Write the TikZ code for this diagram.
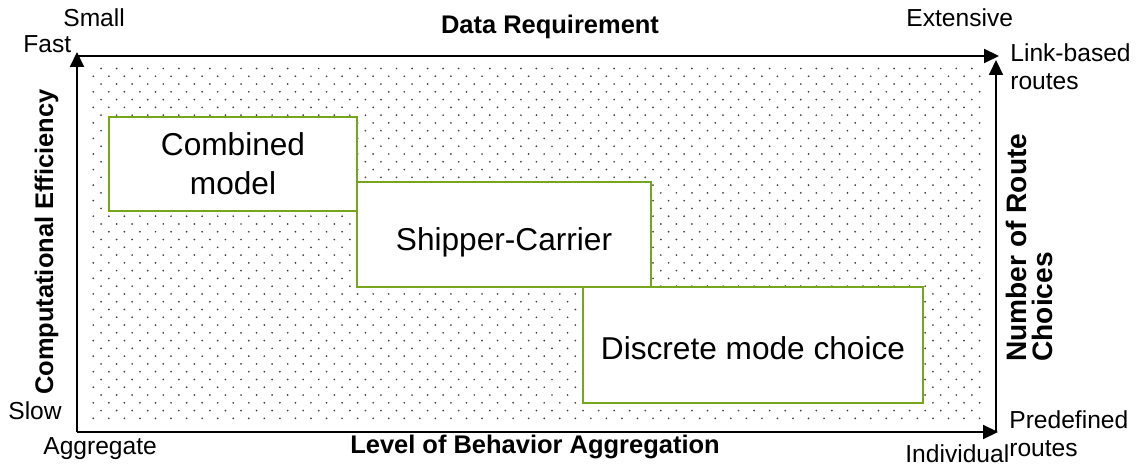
\documentclass[tikz,border=0pt]{standalone}
\usepackage{fontspec}
\setmainfont{Liberation Sans}
\usetikzlibrary{arrows.meta,patterns}
\definecolor{boxgreen}{RGB}{118,166,30}
\pgfdeclarepatternformonly{sparsedots}{\pgfqpoint{-0.6pt}{-0.6pt}}{\pgfqpoint{8.25pt}{8.25pt}}{\pgfqpoint{8.85pt}{8.85pt}}{%
	\pgfpathcircle{\pgfqpoint{0pt}{0pt}}{0.55pt}%
	\pgfpathcircle{\pgfqpoint{4.425pt}{4.425pt}}{0.55pt}%
	\pgfusepath{fill}}
\tikzset{
	axisarrow/.style={line width=0.04cm, -{Triangle[length=0.3cm,width=0.28cm]}},
	modelbox/.style={draw=boxgreen, line width=0.04cm, fill=white, align=center, font=\fontsize{18}{22}\selectfont},
	endlabel/.style={inner sep=0pt, font=\fontsize{14}{16}\selectfont},
	axislabel/.style={inner sep=0pt, font=\fontsize{14.5}{17}\selectfont\bfseries},
}

\begin{document}
\begin{tikzpicture}[x=0.02cm, y=-0.02cm]
		%%%%% START %%%%%
		\useasboundingbox (0,0) rectangle (1142,465);
		
		\fill[pattern=sparsedots, pattern color=black!75] (88,65) rectangle (984,422);
		
		\coordinate (origin) at (77,432);
		\coordinate (fast) at (77,52);
		\coordinate (topleft) at (77,56);
		\coordinate (extensive) at (999,56);
		\coordinate (rightfoot) at (996,432);
		\coordinate (linkbased) at (996,60);
		\coordinate (individual) at (998,432);
		
		\draw[axisarrow] (origin) -- (fast);
		\draw[axisarrow] (topleft) -- (extensive);
		\draw[axisarrow] (rightfoot) -- (linkbased);
		\draw[axisarrow] (origin) -- (individual);
		
		\node[modelbox, minimum width=4.96cm, minimum height=1.88cm] (combined) at (233,164) {Combined\\model};
		\node[modelbox, minimum width=5.88cm, minimum height=2.1cm, text height=0.79cm, text depth=0.13cm] (shipper) at (504,234.5) {Shipper-Carrier};
		\node[modelbox, minimum width=6.8cm, minimum height=2.32cm, text height=0.6cm, text depth=0cm] (discrete) at (753,345) {Discrete mode choice};
		
		\node[endlabel, anchor=base west] (small) at (63,27) {Small};
		\node[endlabel, anchor=base west] (fastlabel) at (23,53) {Fast};
		\node[endlabel, anchor=base west] (extlabel) at (906,27) {Extensive};
		\node[endlabel, anchor=south west, align=left] (linklabel) at (1010,90) {Link-based\\routes};
		\node[endlabel, anchor=base west] (slow) at (8,419) {Slow};
		\node[endlabel, anchor=base west] (aggregate) at (43,455) {Aggregate};
		\node[endlabel, anchor=base west] (indiv) at (905,462) {Individual};
		\node[endlabel, anchor=south west, align=left] (predef) at (1009,457) {Predefined\\routes};
		
		\node[axislabel, anchor=base] (datareq) at (550,34) {Data Requirement};
		\node[axislabel, anchor=base] (behavior) at (535,454) {Level of Behavior Aggregation};
		\node[axislabel, anchor=base, rotate=90] (efficiency) at (53,242) {Computational Efficiency};
		\node[axislabel, anchor=south west, rotate=90, align=left, font=\fontsize{16}{15}\selectfont\bfseries] (routechoices) at (1053,362) {Number of Route\\Choices};
		
		%%%%% END %%%%%
	\end{tikzpicture}
\end{document}
